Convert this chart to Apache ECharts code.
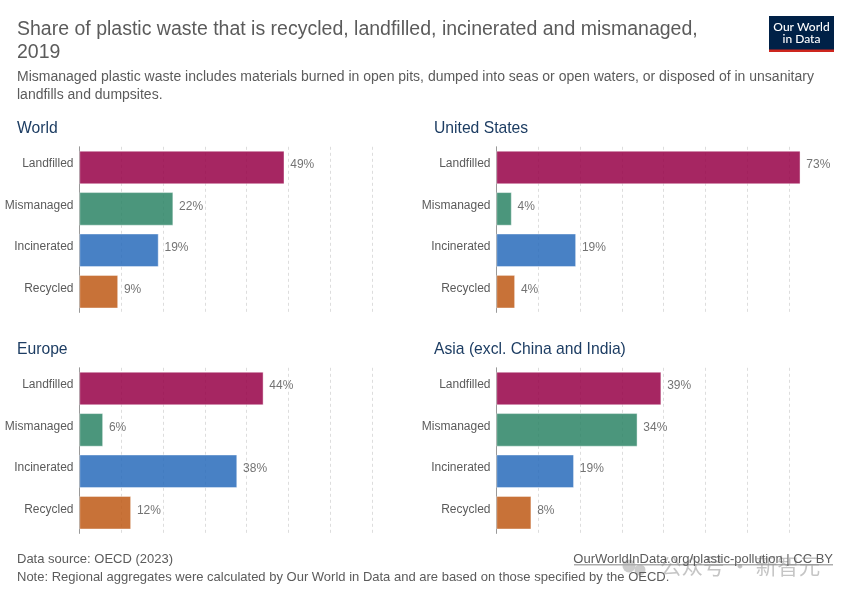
<!DOCTYPE html>
<html>
<head>
<meta charset="utf-8">
<style>
  html, body { margin: 0; padding: 0; background: #fff; }
  #chart { width: 850px; height: 600px; }
</style>
<script src="https://cdn.jsdelivr.net/npm/echarts@6/dist/echarts.min.js"></script>
</head>
<body>
<div id="chart"></div>
<script>
// values, labels show them rounded
const categories = ['Landfilled', 'Mismanaged', 'Incinerated', 'Recycled'];
const barColors = ['#970046', '#2c8465', '#286bbb', '#be5915'];
const panelNames = ['World', 'United States', 'Europe', 'Asia (excl. China and India)'];
const worldValues = [49, 22.4, 18.9, 9.2];
const usValues = [72.7, 3.6, 19, 4.4];
const europeValues = [44, 5.6, 37.7, 12.3];
const asiaValues = [39.4, 33.7, 18.5, 8.3];
const panelValues = [worldValues, usValues, europeValues, asiaValues];
const xTickStep = 10;
const xMax = 70;

const FONT = '"Liberation Sans", Arial, sans-serif';
const chart = echarts.init(document.getElementById('chart'));

const lefts = [79.5, 496.5];
const tops = [146.8, 367.8];
const grids = [], xAxes = [], yAxes = [], series = [], titles = [];

panelValues.forEach((values, i) => {
  const left = lefts[i % 2];
  const top = tops[Math.floor(i / 2)];
  grids.push({ left: left, top: top, width: 292.5, height: 165.6 });
  xAxes.push({
    gridIndex: i, type: 'value', min: 0, max: xMax, interval: xTickStep,
    axisLine: { show: false }, axisTick: { show: false }, axisLabel: { show: false },
    splitLine: { lineStyle: { color: '#dddddd', type: [3, 3], width: 1 } }
  });
  yAxes.push({
    gridIndex: i, type: 'category', inverse: true, data: categories,
    axisLine: { show: true, lineStyle: { color: '#999999', width: 1 } },
    axisTick: { show: false },
    // labels sit a little above the bar centre in the reference
    axisLabel: { color: '#5b5b5b', fontFamily: FONT, fontSize: 12, margin: 6, verticalAlign: 'bottom', lineHeight: 7 }
  });
  series.push({
    type: 'bar', xAxisIndex: i, yAxisIndex: i, barWidth: '80%', clip: false,
    silent: true, animation: false,
    data: values.map((v, k) => ({
      value: v,
      itemStyle: { color: barColors[k], opacity: 0.85, borderColor: '#ffffff', borderWidth: 0.5 }
    })),
    label: {
      show: true, position: 'right', distance: 6, offset: [0, -2.5], color: '#5b5b5b',
      fontFamily: FONT, fontSize: 12,
      formatter: p => Math.round(p.value) + '%'
    }
  });
  titles.push({
    text: panelNames[i], left: left - 67.5, top: top - 31,
    textStyle: { color: '#1d3d63', fontFamily: FONT, fontSize: 15.7, fontWeight: 'normal' }
  });
});

titles.push({
  text: 'Share of plastic waste that is recycled, landfilled, incinerated and mismanaged,\n2019',
  left: 12, top: 13.5,
  textStyle: { color: '#5b5b5b', fontFamily: FONT, fontSize: 19.5, fontWeight: 'normal', lineHeight: 22.5 }
});
titles.push({
  text: 'Mismanaged plastic waste includes materials burned in open pits, dumped into seas or open waters, or disposed of in unsanitary\nlandfills and dumpsites.',
  left: 12, top: 63,
  textStyle: { color: '#5b5b5b', fontFamily: FONT, fontSize: 14, fontWeight: 'normal', lineHeight: 18 }
});
titles.push({
  text: 'Data source: OECD (2023)',
  left: 12, top: 548,
  textStyle: { color: '#5b5b5b', fontFamily: FONT, fontSize: 13, fontWeight: 'normal' }
});
titles.push({
  text: 'Note: Regional aggregates were calculated by Our World in Data and are based on those specified by the OECD.',
  left: 12, top: 566,
  textStyle: { color: '#5b5b5b', fontFamily: FONT, fontSize: 13, fontWeight: 'normal' }
});
titles.push({
  text: 'OurWorldInData.org/plastic-pollution | CC BY',
  right: 12, top: 548,
  textStyle: { color: '#5b5b5b', fontFamily: FONT, fontSize: 13, fontWeight: 'normal' }
});

const graphic = [
  // logo
  { type: 'rect', shape: { x: 769, y: 16, width: 65, height: 36 }, style: { fill: '#002147' } },
  { type: 'rect', shape: { x: 769, y: 49.5, width: 65, height: 2.5 }, style: { fill: '#ce261e' } },
  { type: 'text', style: { x: 801.5, y: 21, text: 'Our World', fill: '#fff', font: '500 12px Lato', textAlign: 'center' } },
  { type: 'text', style: { x: 801.5, y: 33.5, text: 'in Data', fill: '#fff', font: '500 12px Lato', textAlign: 'center' } },
  // link underline
  { type: 'rect', shape: { x: 574, y: 564.5, width: 259, height: 0.8 }, style: { fill: '#5b5b5b' } },
  // watermark over the footer
  { type: 'circle', shape: { cx: 629, cy: 566, r: 6.5 }, style: { fill: '#aaaaaa', opacity: 0.6 } },
  { type: 'circle', shape: { cx: 640, cy: 570, r: 5.5 }, style: { fill: '#aaaaaa', opacity: 0.6 } },
  { type: 'text', style: { x: 660, y: 555, text: '公众号 · 新智元', fill: 'rgba(150,150,150,0.55)', font: '21.5px "Noto Sans CJK SC"' } }
];

chart.setOption({
  animation: false,
  backgroundColor: '#ffffff',
  title: titles,
  grid: grids,
  xAxis: xAxes,
  yAxis: yAxes,
  series: series,
  graphic: graphic
});
</script>
</body>
</html>
